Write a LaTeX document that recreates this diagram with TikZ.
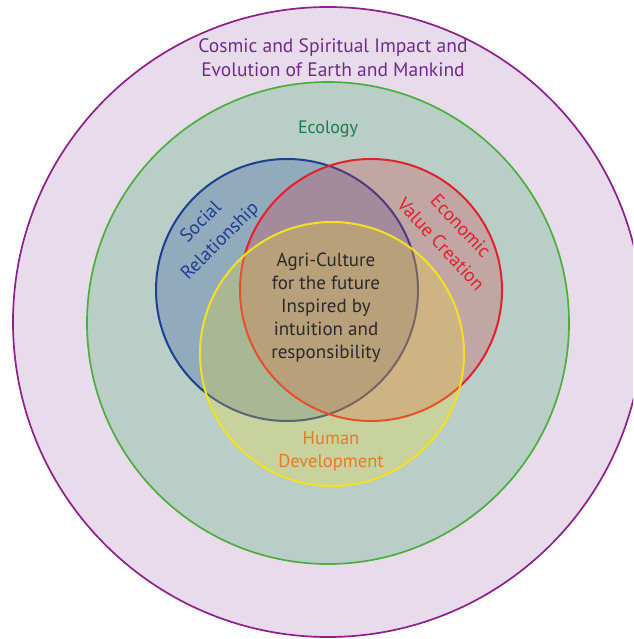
\documentclass[tikz,border=0pt]{standalone}
\usepackage{fontspec}
\setmainfont{PT Sans}
\definecolor{cosmicline}{HTML}{8E1F8C}
\definecolor{cosmicfill}{HTML}{E8DCEC}
\definecolor{cosmictext}{HTML}{6E2C8A}
\definecolor{ecoline}{HTML}{4DAE3E}
\definecolor{ecofill}{HTML}{B8CEC7}
\definecolor{ecotext}{HTML}{1F7A4C}
\definecolor{socline}{HTML}{1F3F94}
\definecolor{socfill}{HTML}{2E4FA0}
\definecolor{econline}{HTML}{E3202E}
\definecolor{econfill}{HTML}{E0303C}
\definecolor{humline}{HTML}{F5E020}
\definecolor{humfill}{HTML}{F5E11F}
\definecolor{humtext}{HTML}{E8792B}
\definecolor{coretext}{HTML}{2A2A2A}
\tikzset{
  ring/.style={line width=1.7pt},
  venn/.style={line width=2pt, fill opacity=0.28},
  label/.style={align=center, font=\fontsize{18}{23}\selectfont, inner sep=0pt},
  tilted/.style={label, font=\fontsize{19}{27}\selectfont},
}
\begin{document}
\begin{tikzpicture}[x=1pt,y=-1pt]
  \useasboundingbox (0,0) rectangle (633,639);
  \begin{scope}
    \clip (0,0) rectangle (633,639);
    % outer sphere
    \draw[ring, draw=cosmicline, fill=cosmicfill] (328,322) circle[radius=315];
    % ecology
    \draw[ring, draw=ecoline, fill=ecofill] (328,323) circle[radius=241];
    % three overlapping domains
    \draw[venn, draw=socline, fill=socfill] (287,290) circle[radius=131];
    \draw[venn, draw=econline, fill=econfill, fill opacity=0.25] (371,290) circle[radius=131];
    \draw[venn, draw=humline, fill=humfill, fill opacity=0.25] (332,354) circle[radius=132];
  \end{scope}
  \node[label, text=cosmictext, font=\fontsize{19.5}{24}\selectfont] (cosmic) at (333,58)
    {Cosmic and Spiritual Impact and\\Evolution of Earth and Mankind};
  \node[label, text=ecotext] (eco) at (328,129) {Ecology};
  \node[tilted, text=socline, rotate=45] (soc) at (211,232) {Social\\Relationship};
  \node[tilted, text=econline, rotate=-47] (econ) at (451,235) {Economic\\Value Creation};
  \node[label, text=coretext, font=\fontsize{19}{23}\selectfont] (core) at (326,308)
    {Agri-Culture\\for the future\\Inspired by\\intuition and\\responsibility};
  \node[label, text=humtext, font=\fontsize{18.5}{23}\selectfont] (hum) at (331,451) {Human\\Development};
\end{tikzpicture}
\end{document}
